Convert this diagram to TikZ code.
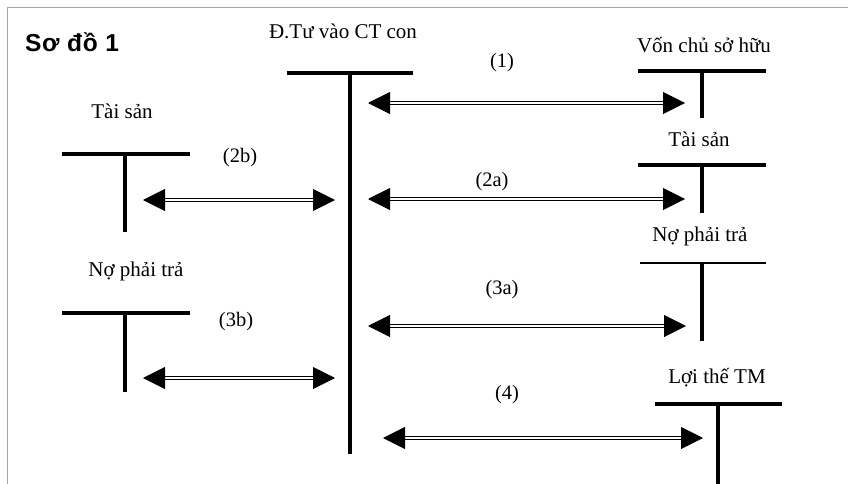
\documentclass[tikz,border=0pt]{standalone}
\usepackage{fontspec}
\setmainfont{Liberation Serif}
\newfontfamily\headfont[LetterSpace=3]{Liberation Sans}
\usetikzlibrary{arrows.meta}
\begin{document}
\begin{tikzpicture}[x=1pt,y=-1pt,
  tbar/.style={line width=3.6pt},
  tthin/.style={line width=2.8pt},
  ttext/.style={font=\fontsize{21}{25}\selectfont, inner sep=0pt},
  lbl/.style={font=\fontsize{20.5}{24}\selectfont, inner sep=0pt},
  dblarrow/.style={double, double distance=1.6pt, line width=1pt,
    {Triangle[length=22pt,width=22pt]}-{Triangle[length=22pt,width=22pt]}}]
\useasboundingbox (0,0) rectangle (848,484);
\draw[gray!70, line width=0.8pt] (7,484) -- (7,7) -- (848,7);
% title
\node[font=\headfont\bfseries\fontsize{24.5}{28}\selectfont, inner sep=0pt] (title) at (72,42) {Sơ đồ 1};
% central account
\node[ttext] (ctname) at (343,31) {Đ.Tư vào CT con};
\coordinate (cL) at (287,73); \coordinate (cR) at (413,73);
\coordinate (cT) at (350,73); \coordinate (cB) at (350,454);
\draw[tbar] (cL) -- (cR); \draw[tbar] (cT) -- (cB);
% right: Von chu so huu
\node[ttext] (vname) at (704,45) {Vốn chủ sở hữu};
\coordinate (vL) at (638,71); \coordinate (vR) at (766,71);
\coordinate (vT) at (702,71); \coordinate (vB) at (702,118);
\draw[tbar] (vL) -- (vR); \draw[tbar] (vT) -- (vB);
% right: Tai san
\node[ttext] (tsname) at (699,139) {Tài sản};
\coordinate (tsL) at (638,165); \coordinate (tsR) at (766,165);
\coordinate (tsT) at (702,165); \coordinate (tsB) at (702,213);
\draw[tbar] (tsL) -- (tsR); \draw[tbar] (tsT) -- (tsB);
% right: No phai tra
\node[ttext] (npname) at (700,236) {Nợ phải trả};
\coordinate (npL) at (640,263); \coordinate (npR) at (766,263);
\coordinate (npT) at (702,263); \coordinate (npB) at (702,341);
\draw[tthin] (npL) -- (npR); \draw[tbar] (npT) -- (npB);
% right: Loi the TM
\node[ttext] (ltname) at (717,378) {Lợi thế TM};
\coordinate (ltL) at (655,404); \coordinate (ltR) at (782,404);
\coordinate (ltT) at (718,404); \coordinate (ltB) at (718,484);
\draw[tbar] (ltL) -- (ltR); \draw[tbar] (ltT) -- (ltB);
% left: Tai san
\node[ttext] (ltsname) at (122,111) {Tài sản};
\coordinate (ltsL) at (62,154); \coordinate (ltsR) at (190,154);
\coordinate (ltsT) at (125,154); \coordinate (ltsB) at (125,232);
\draw[tbar] (ltsL) -- (ltsR); \draw[tbar] (ltsT) -- (ltsB);
% left: No phai tra
\node[ttext] (lnpname) at (136,271) {Nợ phải trả};
\coordinate (lnpL) at (62,313); \coordinate (lnpR) at (190,313);
\coordinate (lnpT) at (125,313); \coordinate (lnpB) at (125,392);
\draw[tbar] (lnpL) -- (lnpR); \draw[tbar] (lnpT) -- (lnpB);
% arrow ends
\coordinate (a1l) at (368,103); \coordinate (a1r) at (685,103);
\coordinate (a2l) at (368,199); \coordinate (a2r) at (685,199);
\coordinate (a3l) at (368,326); \coordinate (a3r) at (686,326);
\coordinate (a4l) at (383,438); \coordinate (a4r) at (703,438);
\coordinate (b2l) at (143,200); \coordinate (b2r) at (335,200);
\coordinate (b3l) at (143,378); \coordinate (b3r) at (335,378);
\draw[dblarrow] (a1l) -- (a1r);
\draw[dblarrow] (a2l) -- (a2r);
\draw[dblarrow] (a3l) -- (a3r);
\draw[dblarrow] (a4l) -- (a4r);
\draw[dblarrow] (b2l) -- (b2r);
\draw[dblarrow] (b3l) -- (b3r);
% labels
\node[lbl] (l1) at (502,63) {(1)};
\node[lbl] (l2a) at (492,182) {(2a)};
\node[lbl] (l2b) at (240,158) {(2b)};
\node[lbl] (l3a) at (502,290) {(3a)};
\node[lbl] (l3b) at (236,322) {(3b)};
\node[lbl] (l4) at (507,395) {(4)};
\end{tikzpicture}
\end{document}
